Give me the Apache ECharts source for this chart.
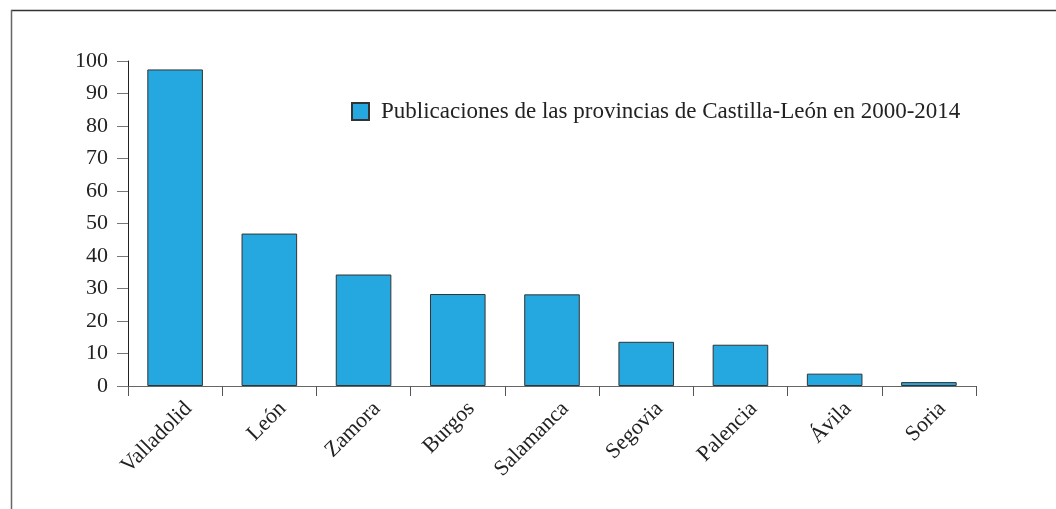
<!DOCTYPE html>
<html><head><meta charset="utf-8">
<script src="https://cdn.jsdelivr.net/npm/echarts@6/dist/echarts.min.js"></script>
<style>html,body{margin:0;padding:0;background:#fff}#c{width:1056px;height:509px}</style>
</head><body><div id="c"></div>
<script>
const categories = ["Valladolid","León","Zamora","Burgos","Salamanca","Segovia","Palencia","Ávila","Soria"];
const values = [97.4, 46.9, 34.3, 28.3, 28.2, 13.6, 12.7, 3.8, 1.2];
const seriesName = "Publicaciones de las provincias de Castilla-León en 2000-2014";
const yTicks = {min: 0, max: 100, interval: 10};

const FONT = "'Liberation Serif', 'DejaVu Serif', serif";
const chart = echarts.init(document.getElementById('c'), null, {renderer: 'canvas'});
chart.setOption({
  animation: false,
  backgroundColor: '#fff',
  graphic: [
    {type: 'line', silent: true, shape: {x1: 11, y1: 10.5, x2: 1056, y2: 10.5}, style: {stroke: '#333', lineWidth: 1.6}},
    {type: 'line', silent: true, shape: {x1: 11.5, y1: 10, x2: 11.5, y2: 509}, style: {stroke: '#666', lineWidth: 1.5}}
  ],
  grid: {left: 128, right: 80, top: 61, bottom: 123, containLabel: false},
  legend: {
    left: 346, top: 95, itemWidth: 17, itemHeight: 17, itemGap: 10,
    icon: 'rect',
    textStyle: {fontFamily: FONT, fontSize: 23, color: '#222', padding: [0, 0, 0, 7]},
    data: [seriesName]
  },
  xAxis: {
    type: 'category', data: categories,
    axisLine: {lineStyle: {color: '#666', width: 1}},
    axisTick: {show: true, length: 10, lineStyle: {color: '#555'}},
    axisLabel: {rotate: 45, margin: 6, verticalAlign: 'top', padding: [8, 0, 0, 0], fontFamily: FONT, fontSize: 22, color: '#222', interval: 0}
  },
  yAxis: {
    type: 'value', min: yTicks.min, max: yTicks.max, interval: yTicks.interval,
    splitLine: {show: false},
    axisLine: {show: true, lineStyle: {color: '#222', width: 1}},
    axisTick: {show: true, length: 11, lineStyle: {color: '#777'}},
    axisLabel: {margin: 20, fontFamily: FONT, fontSize: 22, color: '#222'}
  },
  series: [{
    name: seriesName, type: 'bar', data: values, barWidth: '59%',
    itemStyle: {color: '#25A8DF', borderColor: '#333', borderWidth: 1}
  }]
});
</script></body></html>
